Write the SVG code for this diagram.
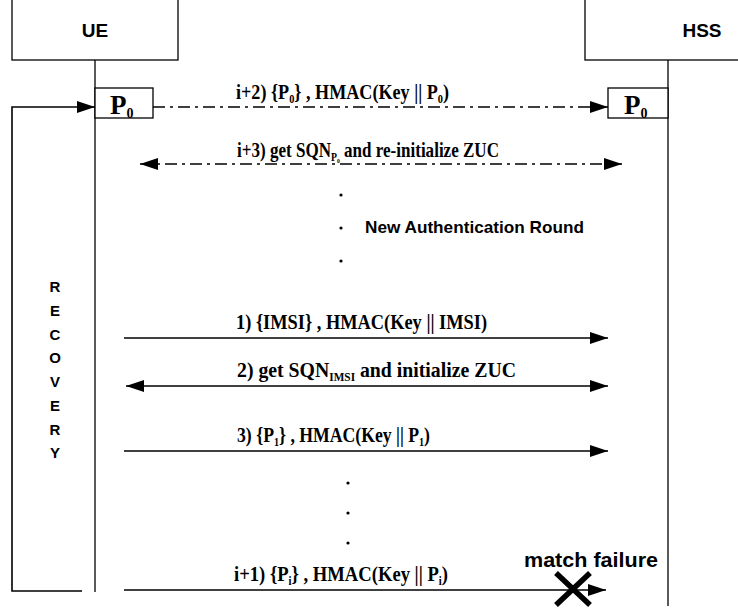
<svg xmlns="http://www.w3.org/2000/svg" width="738" height="614" viewBox="0 0 738 614">
<defs>
<marker id="ahb" viewBox="0 0 10 10" refX="10" refY="5" markerWidth="18" markerHeight="12" markerUnits="userSpaceOnUse" orient="auto-start-reverse" preserveAspectRatio="none">
<path d="M0,0 L10,5 L0,10 z" fill="#000"/>
</marker>
<style>
.box{fill:#fff;stroke:#000;stroke-width:1.3}
.life{stroke:#000;stroke-width:1.3;fill:none}
.msg{stroke:#000;stroke-width:1.6;fill:none}
.dd{stroke:#000;stroke-width:1.3;fill:none;stroke-dasharray:12 5 3 5}
.lbl{font-family:"Liberation Serif",serif;font-weight:bold;font-size:21px}
.sub{font-size:12px}
.sans{font-family:"Liberation Sans",Arial,sans-serif;font-weight:bold}
.p0{font-family:"Liberation Serif",serif;font-weight:bold;font-size:27px}
.dot{fill:#000}
</style>
</defs>
<rect width="738" height="614" fill="#fff"/>
<g id="UE">
<rect class="box" x="12" y="-2" width="166" height="62"/>
<text class="sans" x="95" y="37" font-size="19" text-anchor="middle">UE</text>
<line class="life" x1="95" y1="60" x2="95" y2="592"/>
</g>
<g id="HSS">
<rect class="box" x="585" y="-2" width="160" height="62"/>
<text class="sans" x="702" y="37" font-size="19" text-anchor="middle">HSS</text>
<line class="life" x1="668" y1="60" x2="668" y2="606"/>
</g>
<g id="P0_UE">
<rect class="box" x="95" y="88" width="58" height="30"/>
<text class="p0" x="110" y="114">P<tspan font-size="14" dy="4">0</tspan></text>
</g>
<g id="P0_HSS">
<rect class="box" x="608" y="88" width="60" height="30"/>
<text class="p0" x="624" y="114">P<tspan font-size="14" dy="4">0</tspan></text>
</g>
<g id="RECOVERY">
<text class="sans" font-size="15" text-anchor="middle" x="55">
<tspan x="55" y="292">R</tspan><tspan x="55" y="316">E</tspan><tspan x="55" y="340">C</tspan><tspan x="55" y="363">O</tspan><tspan x="55" y="387">V</tspan><tspan x="55" y="411">E</tspan><tspan x="55" y="435">R</tspan><tspan x="55" y="458">Y</tspan>
</text>
</g>
<g id="connectors">
<path class="msg" d="M82,591 L12,591 L12,107 L95,107" marker-end="url(#ahb)"/>
<line class="dd" x1="153" y1="107" x2="608" y2="107" marker-end="url(#ahb)"/>
<line class="dd" x1="140" y1="164" x2="622" y2="164" marker-start="url(#ahb)" marker-end="url(#ahb)"/>
<line class="msg" x1="124" y1="338" x2="608" y2="338" marker-end="url(#ahb)"/>
<line class="msg" x1="126" y1="386" x2="608" y2="386" marker-start="url(#ahb)" marker-end="url(#ahb)"/>
<line class="msg" x1="124" y1="451" x2="608" y2="451" marker-end="url(#ahb)"/>
<line class="msg" x1="124" y1="590" x2="606" y2="590" marker-end="url(#ahb)"/>
</g>
<g id="labels">
<text class="lbl" x="236" y="99" textLength="213" lengthAdjust="spacingAndGlyphs">i+2) {P<tspan class="sub" dy="4">0</tspan><tspan dy="-4">} ,  HMAC(Key || P</tspan><tspan class="sub" dy="4">0</tspan><tspan dy="-4">)</tspan></text>
<text class="lbl" x="237" y="157" textLength="262" lengthAdjust="spacingAndGlyphs">i+3) get SQN<tspan class="sub" dy="4">P</tspan><tspan font-size="7" dy="2">0</tspan><tspan dy="-6">  and re-initialize ZUC</tspan></text>
<text class="lbl" x="236" y="329" textLength="251" lengthAdjust="spacingAndGlyphs">1) {IMSI} ,  HMAC(Key || IMSI)</text>
<text class="lbl" x="237" y="377" textLength="279" lengthAdjust="spacingAndGlyphs">2) get SQN<tspan class="sub" dy="4">IMSI</tspan><tspan dy="-4">  and initialize ZUC</tspan></text>
<text class="lbl" x="237" y="442" textLength="193" lengthAdjust="spacingAndGlyphs">3) {P<tspan class="sub" dy="4">1</tspan><tspan dy="-4">} ,  HMAC(Key || P</tspan><tspan class="sub" dy="4">1</tspan><tspan dy="-4">)</tspan></text>
<text class="lbl" x="234" y="581" textLength="214" lengthAdjust="spacingAndGlyphs">i+1) {P<tspan class="sub" dy="4">i</tspan><tspan dy="-4">} ,  HMAC(Key || P</tspan><tspan class="sub" dy="4">i</tspan><tspan dy="-4">)</tspan></text>
<text class="sans" x="365" y="233" font-size="17" textLength="219" lengthAdjust="spacingAndGlyphs">New Authentication Round</text>
<text class="sans" x="524" y="567" font-size="21" textLength="134" lengthAdjust="spacingAndGlyphs">match failure</text>
</g>
<g id="dots">
<circle class="dot" cx="341" cy="195" r="1.6"/>
<circle class="dot" cx="341" cy="228" r="1.6"/>
<circle class="dot" cx="341" cy="261" r="1.6"/>
<circle class="dot" cx="348" cy="483" r="1.6"/>
<circle class="dot" cx="348" cy="513" r="1.6"/>
<circle class="dot" cx="348" cy="543" r="1.6"/>
</g>
<g id="failure">
<path d="M556,573 L590,605 M590,573 L556,605" stroke="#000" stroke-width="5.5" fill="none"/>
</g>
</svg>
